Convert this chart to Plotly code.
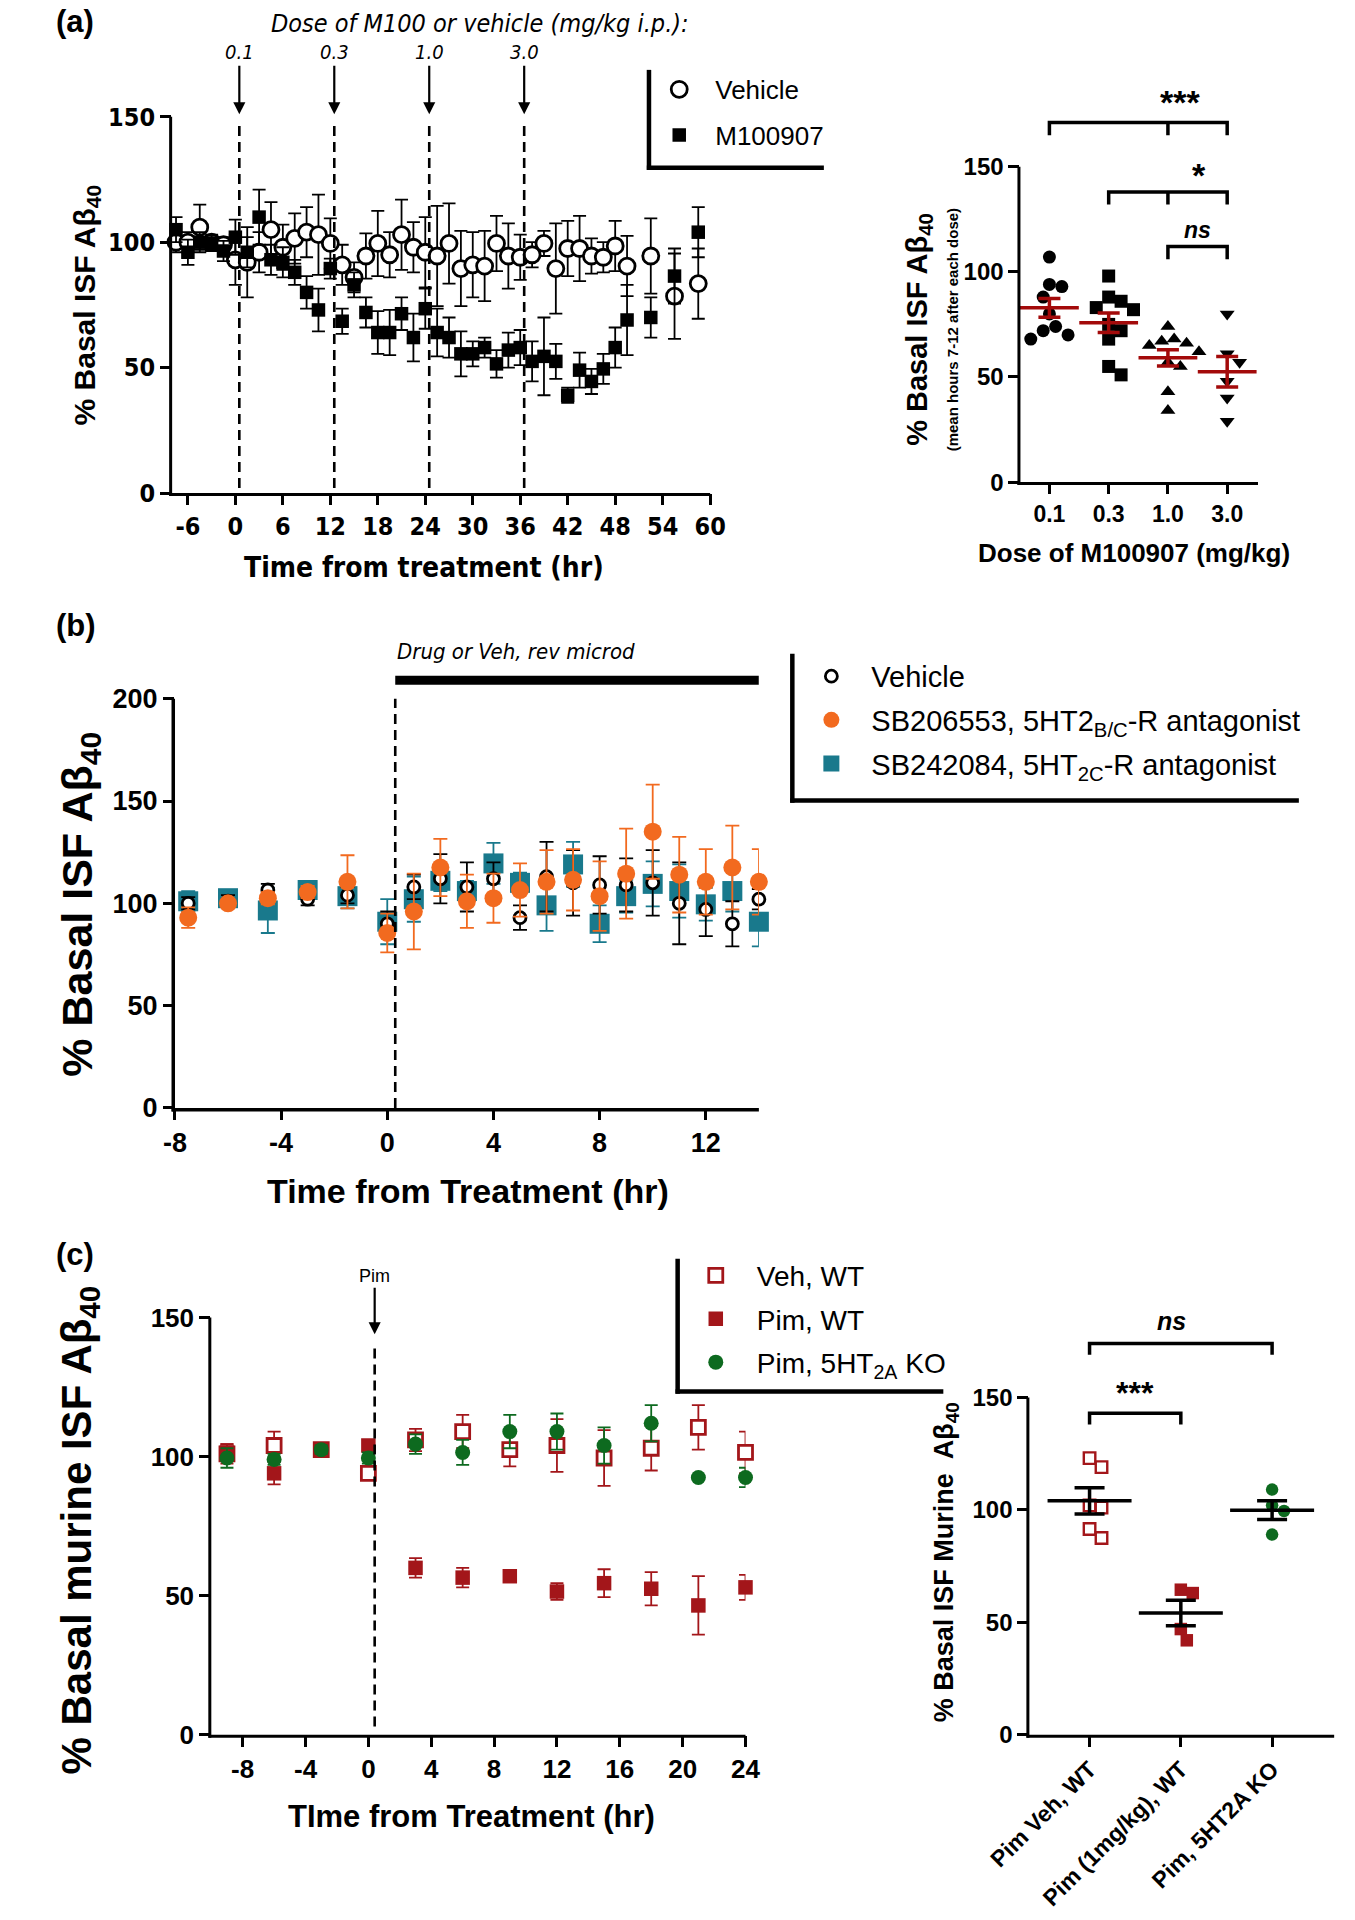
import numpy as np
import plotly.graph_objects as go

W, H = 1355, 1920
SY = 1.006  # small global vertical stretch
ARIAL = "Liberation Sans, Arial, sans-serif"
NARROW = "Liberation Sans Narrow, Arial Narrow, DejaVu Sans Condensed, Liberation Sans, sans-serif"

ORANGE = "#F26A1F"
TEAL = "#19798C"
DRED = "#A3161A"
GREEN = "#0D6A1F"
MRED = "#A30A0A"

# ===================== DATA =====================
# (a) left: time course
a_time = [-7.5, -6, -4.5, -3, -1.5, 0, 1.5, 3, 4.5, 6, 7.5, 9, 10.5, 12, 13.5, 15, 16.5, 18,
          19.5, 21, 22.5, 24, 25.5, 27, 28.5, 30, 31.5, 33, 34.5, 36, 37.5, 39, 40.5, 42, 43.5,
          45, 46.5, 48, 49.5, 52.5, 55.5, 58.5]
a_veh = [100, 100, 106, 100, 99, 93, 92, 96, 105, 98, 101.5, 104, 103, 99.5, 91, 86, 94.5, 99.5,
         95, 103, 98, 96, 94.5, 99.5, 89.5, 91, 90.5, 99.5, 94.5, 94, 95, 99.5, 89.5, 97.5, 97.5,
         94.5, 94, 98.5, 90.5, 94.5, 78.5, 83.5]
a_veh_sem = [4, 4, 9, 3, 3, 10, 14, 8, 11, 9, 10, 10, 16, 10, 8, 6, 9, 13, 9, 14, 10, 14, 20, 16,
             15, 13, 14, 11, 13, 9, 5, 5, 18, 11, 13, 7, 6, 10, 12, 15, 17, 14]
a_m100 = [105, 96, 100, 99.5, 96.5, 102, 96, 110, 93, 92, 88, 80, 73, 89.5, 68.5, 83, 72, 64, 64,
          71.5, 62, 73.5, 64, 62, 55.5, 55.5, 58, 51.5, 57, 58, 52.5, 54.5, 52.5, 39, 49, 44.5,
          49.5, 58, 69, 70, 86.5, 104]
a_m100_sem = [5, 5, 4, 3, 4, 7, 6, 11, 6, 6, 5, 6.5, 8.5, 4, 5, 5, 6, 8.5, 9, 6.5, 9.5, 8, 9.5, 8,
              9, 5, 4, 5.5, 7, 7, 8, 15.5, 7, 3, 7, 5, 6, 8, 14, 8, 11, 10]
a_dose_times = [0.5, 12.5, 24.5, 36.5]
a_dose_labels = ["0.1", "0.3", "1.0", "3.0"]
a_xticks = [-6, 0, 6, 12, 18, 24, 30, 36, 42, 48, 54, 60]

# (a) right: mean hours 7-12 after each dose
r_doses = ["0.1", "0.3", "1.0", "3.0"]
r_groups = [
    [107, 94, 93, 88, 80, 74, 72, 70, 68],
    [98, 88, 86, 83, 82, 75, 72, 68, 55, 51],
    [74, 68, 67, 66, 65, 62, 57, 55, 43, 34],
    [80, 61, 57, 48, 40, 29],
]
r_symbols = ["circle", "square", "triangle-up", "triangle-down"]

# (b) time course
b_time = [-7.5, -6, -4.5, -3, -1.5, 0, 1, 2, 3, 4, 5, 6, 7, 8, 9, 10, 11, 12, 13, 14]
b_veh = [100, 101, 106.5, 102, 104, 90, 108, 112, 108, 112, 93, 113, 110, 109, 109, 110, 100, 97, 90, 102]
b_veh_sem = [3, 3, 3, 3, 4, 6, 6, 12, 12, 8, 6, 17, 16, 14, 13, 16, 20, 13, 11, 5]
b_sb206 = [93, 100, 102.5, 105.5, 110.5, 85.5, 96, 117.5, 101, 102.5, 106.5, 110.5, 111.5, 103.5,
           114.5, 135, 114, 110.5, 117.5, 110.5]
b_sb206_sem = [5, 2, 3, 3, 13, 9.5, 18.5, 14, 13, 12, 13, 15.5, 15, 17, 22, 23, 18.5, 16, 20.5, 16]
b_sb242 = [101, 102.5, 96.5, 106.5, 103.5, 91, 102, 111, 106, 119.5, 110, 99, 119, 90, 103.5,
           109.5, 106, 99.5, 106, 91]
b_sb242_sem = [5, 4, 11, 4, 6, 11, 11, 5, 5, 10, 5, 12.5, 11, 9, 8, 11, 13, 8, 10, 12]
b_xticks = [-8, -4, 0, 4, 8, 12]

# (c) left time course
c_time = [-9, -6, -3, 0, 3, 6, 9, 12, 15, 18, 21, 24]
c_veh_wt = [101, 104, 102.5, 94, 106, 109, 102.5, 104, 99.5, 103, 110.5, 101.5]
c_veh_wt_sem = [3.5, 5, 2, 2, 4, 6, 6, 9.5, 10, 8, 8, 7.5]
c_pim_wt = [101.5, 94, 102.5, 104, 60, 56.5, 57, 51.5, 54.5, 52.5, 46.5, 53]
c_pim_wt_sem = [3, 4, 1.5, 2, 3.5, 3.5, 1.5, 3, 5, 6, 10.5, 4.5]
c_pim_ko = [99.5, 99, 102.5, 99.5, 104.5, 101.5, 109, 109, 104, 112, 92.5, 92.5]
c_pim_ko_sem = [3.5, 2, 1.5, 2, 3.5, 4.5, 6, 6.5, 6.5, 6.5, 0, 3.5]
c_xticks = [-8, -4, 0, 4, 8, 12, 16, 20, 24]

# (c) right
d_labels = ["Pim Veh, WT", "Pim (1mg/kg), WT", "Pim, 5HT2A KO"]
d_groups = [
    [123, 119, 102, 101, 91.5, 87.5],
    [64.5, 63, 47, 42],
    [109, 102, 99.5, 89],
]

yticks150 = [0, 50, 100, 150]


# ===================== LAYOUT HELPERS =====================
class Panel:
    def __init__(self, px0, vx0, px1, vx1, py0, vy0, py1, vy1, xr, yr):
        self.px0, self.vx0 = px0, vx0
        self.sx = (px1 - px0) / (vx1 - vx0)
        self.py0, self.vy0 = py0 * SY, vy0
        self.sy = (py1 - py0) * SY / (vy1 - vy0)
        self.xr, self.yr = xr, yr

    def px(self, v):
        return self.px0 + (v - self.vx0) * self.sx

    def py(self, v):  # already stretched pixel
        return self.py0 + (v - self.vy0) * self.sy

    def xdomain(self):
        return [self.px(self.xr[0]) / W, self.px(self.xr[1]) / W]

    def ydomain(self):
        return [1 - self.py(self.yr[0]) / H, 1 - self.py(self.yr[1]) / H]


def X(p):
    return p / W


def Y(p):
    return 1 - p * SY / H


def Yraw(p):
    return 1 - p / H


PA = Panel(134, -8, 697, 60, 494, 0, 117, 150, [-8, 60], [0, 190])
PR = Panel(1052, 0, 1238, 3, 483, 0, 167, 150, [-0.49, 3.52], [0, 188])
PB = Panel(137, -8, 748, 14, 1110, 0, 700, 200, [-8, 14], [0, 232])
PC = Panel(175, -10, 734, 24, 1738, 0, 1320, 150, [-10, 24], [0, 185])
PD = Panel(1094, 0, 1285, 2, 1738, 0, 1400, 150, [-0.66, 2.68], [0, 190])

fig = go.Figure()


def add_series(x, y, err, xa, ya, name, marker, ecolor, ethick, ewidth,
               legend=None, rank=None, show=True):
    fig.add_trace(go.Scatter(
        x=x, y=y, mode="markers", name=name, marker=marker,
        error_y=dict(type="data", array=err, visible=True, color=ecolor,
                     thickness=ethick, width=ewidth),
        xaxis=xa, yaxis=ya, cliponaxis=False, showlegend=show,
        legend=legend, legendrank=rank, legendgroup=name))


def swarm_offsets(vals, ypx, xpx, diam):
    order = sorted(range(len(vals)), key=lambda i: -vals[i])
    placed = []
    offs = [0.0] * len(vals)
    step = diam * 0.5
    cands = [0.0]
    for j in range(1, 30):
        cands += [j * step, -j * step]
    for i in order:
        yp = vals[i] * ypx
        chosen = cands[-1]
        for c in cands:
            if all((c - ox) ** 2 + (yp - oy) ** 2 >= (diam * 0.98) ** 2 for ox, oy in placed):
                chosen = c
                break
        placed.append((chosen, yp))
        offs[i] = chosen / xpx
    return offs


# ===================== (a) left =====================
add_series(a_time, a_veh, a_veh_sem, "x", "y", "Vehicle",
           dict(symbol="circle", size=16, color="white", line=dict(color="black", width=2.8)),
           "black", 1.8, 6.5, legend="legend", rank=1)
add_series(a_time, a_m100, a_m100_sem, "x", "y", "M100907",
           dict(symbol="square", size=13.5, color="black", line=dict(width=0)),
           "black", 1.8, 6.5, legend="legend", rank=2)

# ===================== (a) right =====================
for gi, vals in enumerate(r_groups):
    offs = swarm_offsets(vals, -PR.sy, PR.sx, 13)
    fig.add_trace(go.Scatter(
        x=[gi + o for o in offs], y=vals, mode="markers",
        marker=dict(symbol=r_symbols[gi], size=13, color="black", line=dict(width=0)),
        xaxis="x2", yaxis="y2", showlegend=False, cliponaxis=False))
for gi, vals in enumerate(r_groups):
    m = float(np.mean(vals))
    s = float(np.std(vals, ddof=1) / np.sqrt(len(vals)))
    fig.add_trace(go.Scatter(
        x=[gi], y=[m], mode="markers",
        marker=dict(symbol="line-ew", size=42, color=MRED, line=dict(color=MRED, width=3.5)),
        error_y=dict(type="data", array=[s], color=MRED, thickness=3.5, width=11),
        xaxis="x2", yaxis="y2", showlegend=False, cliponaxis=False))

# ===================== (b) =====================
add_series(b_time, b_sb242, b_sb242_sem, "x3", "y3", "SB242084, 5HT<sub>2C</sub>-R antagonist",
           dict(symbol="square", size=20, color=TEAL, line=dict(width=0)),
           TEAL, 1.8, 7, legend="legend2", rank=3)
add_series(b_time, b_veh, b_veh_sem, "x3", "y3", "Vehicle ",
           dict(symbol="circle", size=12, color="white", line=dict(color="black", width=2.8)),
           "black", 1.8, 7, legend="legend2", rank=1)
add_series(b_time, b_sb206, b_sb206_sem, "x3", "y3", "SB206553, 5HT2<sub>B/C</sub>-R antagonist",
           dict(symbol="circle", size=18, color=ORANGE, line=dict(width=0)),
           ORANGE, 1.8, 7, legend="legend2", rank=2)

# ===================== (c) left =====================
add_series(c_time, c_veh_wt, c_veh_wt_sem, "x4", "y4", "Veh, WT",
           dict(symbol="square", size=14, color="white", line=dict(color=DRED, width=2.8)),
           DRED, 1.8, 6.5, legend="legend3", rank=1)
add_series(c_time, c_pim_wt, c_pim_wt_sem, "x4", "y4", "Pim, WT",
           dict(symbol="square", size=14.5, color=DRED, line=dict(width=0)),
           DRED, 1.8, 6.5, legend="legend3", rank=2)
add_series(c_time, c_pim_ko, c_pim_ko_sem, "x4", "y4", "Pim, 5HT<sub>2A</sub> KO",
           dict(symbol="circle", size=15, color=GREEN, line=dict(width=0)),
           GREEN, 1.8, 6.5, legend="legend3", rank=3)

# ===================== (c) right =====================
d_markers = [
    dict(symbol="square", size=11.5, color="white", line=dict(color=DRED, width=2.4)),
    dict(symbol="square", size=12.5, color=DRED, line=dict(width=0)),
    dict(symbol="circle", size=12.5, color=GREEN, line=dict(width=0)),
]
for gi, vals in enumerate(d_groups):
    offs = swarm_offsets(vals, -PD.sy, PD.sx, 12.5)
    fig.add_trace(go.Scatter(
        x=[gi + o for o in offs], y=vals, mode="markers", marker=d_markers[gi],
        xaxis="x5", yaxis="y5", showlegend=False, cliponaxis=False))
for gi, vals in enumerate(d_groups):
    m = float(np.mean(vals))
    s = float(np.std(vals, ddof=1) / np.sqrt(len(vals)))
    fig.add_trace(go.Scatter(
        x=[gi], y=[m], mode="markers",
        marker=dict(symbol="line-ew", size=60, color="black", line=dict(color="black", width=3.5)),
        error_y=dict(type="data", array=[s], color="black", thickness=3.5, width=15),
        xaxis="x5", yaxis="y5", showlegend=False, cliponaxis=False))


# ===================== AXES =====================
def ax(panel, letter, anchor, tickvals, font, ticktext=None, **kw):
    d = dict(domain=panel.xdomain() if letter == "x" else panel.ydomain(),
             range=panel.xr if letter == "x" else panel.yr,
             anchor=anchor, tickmode="array", tickvals=tickvals,
             ticktext=ticktext if ticktext is not None else [str(v) for v in tickvals],
             showline=False, showgrid=False, zeroline=False, ticks="outside",
             ticklen=11, tickwidth=3, tickcolor="black", tickfont=font, fixedrange=True)
    d.update(kw)
    return d


def bold(size, fam=ARIAL):
    return dict(family=fam, size=size, color="black", weight="bold")


layout_axes = dict(
    xaxis=ax(PA, "x", "y", a_xticks, bold(25, NARROW)),
    yaxis=ax(PA, "y", "x", yticks150, bold(25, NARROW)),
    xaxis2=ax(PR, "x", "y2", [0, 1, 2, 3], bold(23), ticktext=r_doses),
    yaxis2=ax(PR, "y", "x2", yticks150, bold(24)),
    xaxis3=ax(PB, "x", "y3", b_xticks, bold(27)),
    yaxis3=ax(PB, "y", "x3", [0, 50, 100, 150, 200], bold(27)),
    xaxis4=ax(PC, "x", "y4", c_xticks, bold(26)),
    yaxis4=ax(PC, "y", "x4", yticks150, bold(26)),
    xaxis5=ax(PD, "x", "y5", [0, 1, 2], bold(23), ticktext=d_labels, tickangle=-45),
    yaxis5=ax(PD, "y", "x5", yticks150, bold(24)),
)

shapes = []


def axis_lines(p, ytop, lw=3):
    shapes.append(dict(type="line", xref="paper", yref="paper",
                       x0=X(p.px(p.xr[0]) - lw / 2), x1=X(p.px(p.xr[0]) - lw / 2),
                       y0=Yraw(p.py(0) + lw), y1=Yraw(p.py(ytop)),
                       line=dict(color="black", width=lw)))
    shapes.append(dict(type="line", xref="paper", yref="paper",
                       x0=X(p.px(p.xr[0]) - lw), x1=X(p.px(p.xr[1])),
                       y0=Yraw(p.py(0) + lw / 2), y1=Yraw(p.py(0) + lw / 2),
                       line=dict(color="black", width=lw)))


axis_lines(PA, 150)
axis_lines(PR, 150)
axis_lines(PB, 200, 3.5)
axis_lines(PC, 150)
axis_lines(PD, 150)

# (a) dashed dose lines
for t in a_dose_times:
    shapes.append(dict(type="line", xref="x", yref="y", x0=t, x1=t, y0=2, y1=148,
                       line=dict(color="black", width=2.6, dash="10px,6px")))
# (b) dashed + treatment bar
shapes.append(dict(type="line", xref="x3", yref="y3", x0=0.3, x1=0.3, y0=0, y1=200,
                   line=dict(color="black", width=2.6, dash="10px,6px")))
shapes.append(dict(type="line", xref="x3", yref="y3", x0=0.3, x1=14, y0=209, y1=209,
                   line=dict(color="black", width=9)))
# (c) dashed
shapes.append(dict(type="line", xref="x4", yref="y4", x0=0.4, x1=0.4, y0=3, y1=141,
                   line=dict(color="black", width=2.6, dash="10px,6px")))


def bracket(xref, yref, x0, x1, y, leg, mids=()):
    path = f"M {x0},{y - leg} L {x0},{y} L {x1},{y} L {x1},{y - leg}"
    for m in mids:
        path += f" M {m},{y} L {m},{y - leg}"
    shapes.append(dict(type="path", xref=xref, yref=yref, path=path,
                       line=dict(color="black", width=3.5)))


bracket("x2", "y2", 0, 3, 171, 6, mids=(2,))
bracket("x2", "y2", 1, 3, 138, 6, mids=(2,))
bracket("x2", "y2", 2, 3, 112, 6)
bracket("x5", "y5", 0, 2, 174, 5)
bracket("x5", "y5", 0, 1, 143, 5)


def lframe(x, ytop, ybot, xright, lw=4.5):
    shapes.append(dict(type="line", xref="paper", yref="paper", x0=X(x), x1=X(x),
                       y0=Y(ytop), y1=Yraw(ybot * SY + lw / 2), line=dict(color="black", width=lw)))
    shapes.append(dict(type="line", xref="paper", yref="paper", x0=X(x - lw / 2), x1=X(xright),
                       y0=Y(ybot), y1=Y(ybot), line=dict(color="black", width=lw)))


lframe(633, 70, 168, 816)
lframe(783, 655, 802, 1313)
lframe(663, 1261, 1394, 941)

# ===================== ANNOTATIONS =====================
ann = []


def text(x, y, s, font, xanchor="center", yanchor="middle", angle=0, xref="paper", yref="paper"):
    ann.append(dict(x=x, y=y, xref=xref, yref=yref, text=s, showarrow=False, font=font,
                    xanchor=xanchor, yanchor=yanchor, textangle=angle))


text(X(10), Y(22), "(a)", bold(31), xanchor="left")
text(X(10), Y(627), "(b)", bold(31), xanchor="left")
text(X(10), Y(1257), "(c)", bold(31), xanchor="left")

text(X(235), Y(24), "Dose of M100 or vehicle (mg/kg i.p.):",
     dict(family=NARROW, size=25, color="black", style="italic"), xanchor="left")
for t, lab in zip(a_dose_times, a_dose_labels):
    ann.append(dict(x=t, y=151, xref="x", yref="y", text=lab, showarrow=True, ax=0, ay=-62,
                    arrowhead=2, arrowsize=1.1, arrowwidth=2.2, arrowcolor="black",
                    font=dict(family=NARROW, size=20, color="black", style="italic")))

text(X(44), Y(306), "% Basal ISF Aβ<sub>40</sub>", bold(30), angle=-90)
text(X(398), Y(569), "Time from treatment (hr)", bold(28, NARROW))

text(X(916), Y(330), "% Basal ISF Aβ<sub>40</sub>", bold(29), angle=-90)
text(X(950), Y(330), "(mean hours 7-12 after each dose)", bold(15), angle=-90)
text(X(1140), Y(554), "Dose of M100907 (mg/kg)", bold(26))
text(2.2, 181, "***", bold(34), xref="x2", yref="y2")
text(2.52, 146, "*", bold(34), xref="x2", yref="y2")
text(2.5, 120, "ns", dict(family=ARIAL, size=23, color="black", weight="bold", style="italic"),
     xref="x2", yref="y2")

text(0.3, 223, "Drug or Veh, rev microd",
     dict(family=NARROW, size=22, color="black", style="italic"), xanchor="left",
     xref="x3", yref="y3")
text(X(38), Y(906), "% Basal ISF Aβ<sub>40</sub>", bold(43), angle=-90)
text(X(444), Y(1193), "Time from Treatment (hr)", bold(34))

ann.append(dict(x=0.4, y=144, xref="x4", yref="y4", text="Pim", showarrow=True, ax=0, ay=-58,
                arrowhead=2, arrowsize=1.1, arrowwidth=2.2, arrowcolor="black",
                font=dict(family=ARIAL, size=18, color="black")))
text(X(37), Y(1533), "% Basal murine ISF Aβ<sub>40</sub>", bold(42), angle=-90)
text(X(447), Y(1820), "TIme from Treatment (hr)", bold(31))

text(X(944), Y(1565), "% Basal ISF Murine  Aβ<sub>40</sub>", bold(27), angle=-90)
text(0.9, 184, "ns", dict(family=ARIAL, size=25, color="black", weight="bold", style="italic"),
     xref="x5", yref="y5")
text(0.5, 152, "***", bold(32), xref="x5", yref="y5")

fig.update_layout(
    width=W, height=H, autosize=False,
    margin=dict(l=0, r=0, t=0, b=0),
    paper_bgcolor="white", plot_bgcolor="white",
    font=dict(family=ARIAL, color="black"),
    shapes=shapes, annotations=ann,
    legend=dict(x=X(627), y=Y(66), xanchor="left", yanchor="top",
                font=dict(family=ARIAL, size=26, color="black"),
                bgcolor="rgba(0,0,0,0)", itemwidth=62, tracegroupgap=9),
    legend2=dict(x=X(782), y=Y(652), xanchor="left", yanchor="top",
                 font=dict(family=ARIAL, size=29, color="black"),
                 bgcolor="rgba(0,0,0,0)", itemwidth=70, tracegroupgap=3),
    legend3=dict(x=X(660), y=Y(1253), xanchor="left", yanchor="top",
                 font=dict(family=ARIAL, size=28, color="black"),
                 bgcolor="rgba(0,0,0,0)", itemwidth=72, tracegroupgap=4),
    **layout_axes,
)

fig.write_html("out.html", config={"displayModeBar": False, "staticPlot": True},
               post_script="document.body.style.margin='0px';")
